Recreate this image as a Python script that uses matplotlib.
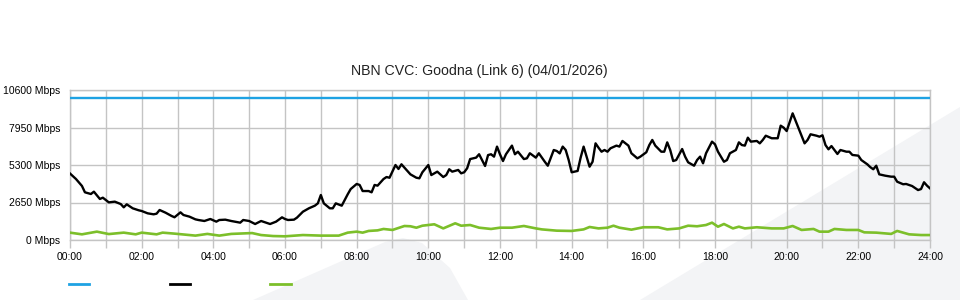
import matplotlib
matplotlib.use("Agg")
import matplotlib.pyplot as plt
from matplotlib.patches import Polygon
from matplotlib.lines import Line2D
import numpy as np

plt.rcParams['font.family'] = ['Liberation Sans', 'DejaVu Sans']

title = "NBN CVC: Goodna (Link 6) (04/01/2026)"

capacity_mbps = 10000

down_minutes = [0, 10, 20, 25, 35, 40, 50, 55, 65, 75, 85, 90, 95, 105, 115, 120, 130, 140, 145, 150,
                160, 170, 175, 185, 190, 200, 210, 215, 225, 235, 245, 250, 260, 270, 285, 290, 300, 310,
                320, 335, 345, 355, 360, 365, 375, 380, 390, 400, 410, 415, 420, 425, 435, 440, 445, 455,
                460, 465, 470, 480, 485, 490, 500, 505, 510, 515, 525, 530, 535, 540, 545, 550, 555, 565,
                570, 580, 585, 590, 600, 605, 615, 620, 625, 630, 635, 640, 650, 655, 660, 665, 670, 680,
                685, 690, 695, 700, 705, 710, 715, 720, 725, 730, 740, 745, 750, 760, 765, 770, 780, 785,
                795, 800, 810, 815, 820, 825, 830, 835, 840, 850, 855, 860, 865, 870, 875, 880, 885, 890,
                895, 900, 905, 915, 920, 925, 935, 940, 950, 955, 965, 970, 975, 980, 990, 995, 1000, 1005,
                1010, 1015, 1025, 1030, 1035, 1045, 1050, 1055, 1060, 1065, 1075, 1080, 1085, 1095, 1100,
                1105, 1115, 1120, 1125, 1130, 1135, 1140, 1150, 1155, 1160, 1165, 1175, 1185, 1190, 1195,
                1200, 1210, 1215, 1220, 1230, 1235, 1240, 1250, 1255, 1260, 1265, 1270, 1275, 1285, 1290,
                1300, 1305, 1310, 1320, 1325, 1335, 1340, 1345, 1350, 1355, 1365, 1375, 1380, 1385, 1395,
                1400, 1410, 1420, 1425, 1430, 1435, 1440]
down_mbps = [4700, 4310, 3820, 3370, 3250, 3415, 2900, 2990, 2660, 2710, 2540, 2310, 2520, 2240, 2100, 2050,
             1885, 1815, 1860, 2120, 1930, 1700, 1605, 1955, 1767, 1650, 1460, 1413, 1343, 1484, 1296, 1413,
             1437, 1343, 1225, 1413, 1343, 1130, 1343, 1130, 1296, 1602, 1484, 1413, 1437, 1578, 2000, 2240,
             2425, 2590, 3180, 2590, 2240, 2240, 2590, 2425, 2830, 3230, 3600, 3960, 3890, 3460, 3460, 3370,
             3890, 3840, 4310, 4450, 4400, 4850, 5300, 5020, 5350, 4880, 4640, 4400, 4360, 4785, 5300, 4590,
             4830, 4640, 4450, 4590, 5000, 4830, 4950, 4710, 4785, 5070, 5720, 5820, 6060, 5650, 5230, 6000,
             6060, 5890, 6600, 6050, 5580, 6060, 6670, 6060, 6240, 5720, 5770, 6130, 5820, 6130, 5530, 5250,
             6360, 6290, 6120, 6600, 6360, 5650, 4785, 4880, 5820, 6600, 5890, 5180, 5530, 6830, 6520, 6240,
             6360, 6240, 6480, 6670, 6600, 7000, 6670, 6130, 5770, 5890, 6200, 6710, 7070, 6670, 6240, 6240,
             6900, 6360, 5580, 5650, 6430, 5890, 5490, 5250, 5650, 5890, 5420, 6130, 6950, 6760, 6240, 5530,
             5650, 6130, 6360, 6900, 6710, 6670, 7230, 6950, 7000, 6830, 7070, 7370, 7190, 7190, 8080, 7940,
             7700, 8950, 8410, 7890, 6830, 7070, 7470, 7370, 7300, 7400, 6710, 6410, 6640, 6080, 6360, 6240,
             6240, 6010, 5960, 5650, 5350, 5150, 5000, 5250, 4640, 4545, 4475, 4475, 4120, 3940, 3960, 3815,
             3530, 3600, 4080, 3840, 3650]

up_minutes = [0, 20, 45, 65, 90, 110, 120, 145, 155, 175, 210, 230, 250, 270, 305, 320, 340, 360, 390, 420,
              450, 465, 480, 490, 500, 515, 525, 540, 545, 560, 570, 580, 590, 610, 625, 645, 655, 670, 685,
              705, 720, 740, 760, 780, 790, 815, 840, 860, 870, 885, 900, 910, 920, 940, 960, 985, 1000, 1020,
              1035, 1050, 1065, 1075, 1085, 1095, 1110, 1120, 1130, 1150, 1175, 1195, 1210, 1225, 1245, 1255,
              1270, 1280, 1300, 1320, 1330, 1350, 1375, 1385, 1405, 1425, 1440]
up_mbps = [520, 400, 590, 420, 520, 400, 520, 400, 520, 450, 310, 430, 310, 430, 490, 350, 280, 260, 350, 310,
           310, 520, 590, 520, 640, 680, 780, 710, 780, 990, 970, 870, 1010, 1110, 820, 1180, 1010, 1060, 870,
           780, 870, 870, 990, 820, 750, 660, 640, 750, 920, 820, 870, 1010, 870, 730, 900, 900, 750, 820,
           1010, 970, 1060, 1225, 940, 1130, 820, 940, 820, 900, 820, 820, 990, 710, 780, 590, 590, 780, 710,
           710, 540, 520, 430, 640, 400, 350, 350]

y_ticks = [0, 2650, 5300, 7950, 10600]
y_labels = ["0 Mbps", "2650 Mbps", "5300 Mbps", "7950 Mbps", "10600 Mbps"]
x_tick_hours = list(range(0, 25))
x_labels = [f"{h:02d}:00" if h % 2 == 0 else "" for h in x_tick_hours]

BLUE = "#1ea2e3"
BLACK = "#000000"
GREEN = "#7cbf2a"
GRID = "#c4c4c4"
BG_SHAPE = "#f3f4f6"

W, H = 960, 300
fig = plt.figure(figsize=(W / 100, H / 100), dpi=100)
fig.patch.set_facecolor("white")


def fp(pts):
    return [(x / W, 1 - y / H) for x, y in pts]


# decorative background shapes
fig.patches.append(Polygon(fp([(253, 300), (385, 242), (403, 238), (422, 243), (450, 268), (468, 300)]),
                           closed=True, transform=fig.transFigure, facecolor=BG_SHAPE, edgecolor="none",
                           zorder=-5))
fig.patches.append(Polygon(fp([(640, 300), (960, 107), (960, 300)]),
                           closed=True, transform=fig.transFigure, facecolor=BG_SHAPE, edgecolor="none",
                           zorder=-5))

ax = fig.add_axes([70 / W, 60 / H, 860 / W, 150 / H])
ax.set_facecolor("none")

t_down = np.array(down_minutes) / 60.0
t_up = np.array(up_minutes) / 60.0

ax.axhline(capacity_mbps, color=BLUE, lw=1.7, zorder=3)
ax.plot(t_down, down_mbps, color=BLACK, lw=1.7, zorder=4, solid_joinstyle="round")
ax.plot(t_up, up_mbps, color=GREEN, lw=1.9, zorder=3, solid_joinstyle="round")

ax.set_xlim(0, 24)
ax.set_ylim(0, 10600)
ax.set_yticks(y_ticks)
ax.set_yticklabels(y_labels)
ax.set_xticks(x_tick_hours)
ax.set_xticklabels(x_labels)
ax.grid(True, color=GRID, lw=1.0, zorder=0)
ax.tick_params(axis="y", length=0, pad=7, labelsize=7.5, labelcolor="#000000")
ax.tick_params(axis="x", length=6, width=1.0, color=GRID, pad=3, labelsize=7.5, labelcolor="#000000")
for s in ax.spines.values():
    s.set_color(GRID)
    s.set_linewidth(1.0)

fig.text(479 / W, 1 - 71 / H, title, ha="center", va="center", fontsize=10.2, color="#222222")

handles = [Line2D([], [], color=c, lw=2) for c in (BLUE, BLACK, GREEN)]
fig.legend(handles, ["", "", ""], loc="center left", bbox_to_anchor=(69 / W, 1 - 285 / H),
           ncol=3, frameon=False, handlelength=1.45, handletextpad=0, columnspacing=5.8,
           borderpad=0, borderaxespad=0, fontsize=10)

fig.savefig("out.png", dpi=100)
